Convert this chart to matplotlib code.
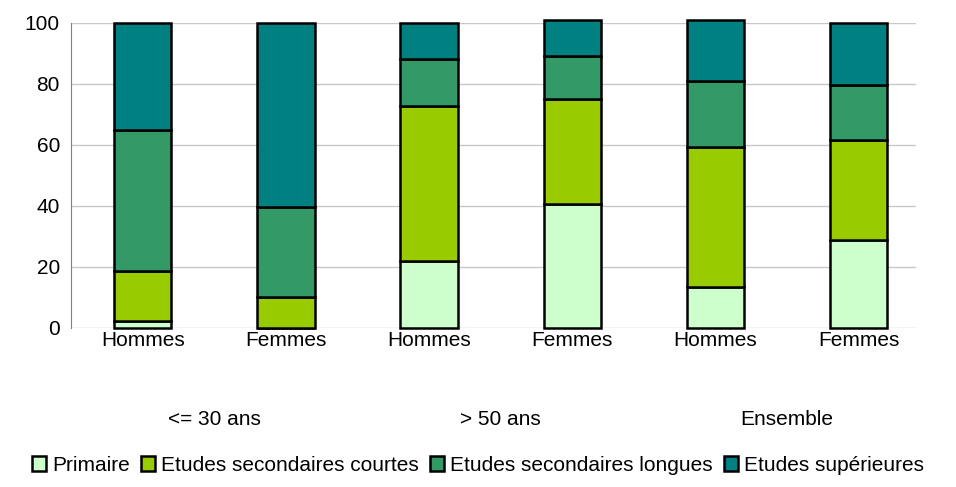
import matplotlib.pyplot as plt
import numpy as np

plt.rcParams['font.family'] = ['Liberation Sans', 'DejaVu Sans']

sexes = ['Hommes', 'Femmes', 'Hommes', 'Femmes', 'Hommes', 'Femmes']
groups = ['<= 30 ans', '> 50 ans', 'Ensemble']
series = ['Primaire', 'Etudes secondaires courtes', 'Etudes secondaires longues', 'Etudes supérieures']
primaire = [2.2, 0.0, 21.9, 40.6, 13.4, 29.0]
courtes = [16.6, 10.1, 50.7, 34.3, 46.0, 32.7]
longues = [46.1, 29.7, 15.7, 14.2, 21.7, 17.9]
superieures = [35.1, 60.2, 11.7, 11.8, 19.8, 20.4]
colors = ['#CCFFCC', '#99CC00', '#339966', '#008080']

fig = plt.figure(figsize=(9.56, 4.87), dpi=100)
ax = fig.add_axes([0.0743, 0.3265, 0.884, 0.6265])

x = np.arange(len(sexes))
bottom = np.zeros(len(sexes))
for name, vals, col in zip(series, [primaire, courtes, longues, superieures], colors):
    ax.bar(x, vals, 0.4, bottom=bottom, color=col, edgecolor='black', linewidth=1.8,
           label=name, zorder=3, clip_on=False)
    bottom += np.array(vals)

ax.set_xlim(-0.5, 5.4)
ax.set_ylim(0, 100)
ax.set_yticks(range(0, 101, 20))
ax.yaxis.grid(True, color='#c8c8c8', linewidth=1, zorder=0)
ax.set_axisbelow(True)
for s in ['top', 'right', 'bottom']:
    ax.spines[s].set_visible(False)
ax.spines['left'].set_color('#808080')
ax.tick_params(axis='y', length=0, labelsize=15, pad=8)
ax.tick_params(axis='x', length=0, labelsize=15, pad=2)
ax.set_xticks(x)
ax.set_xticklabels(sexes)

for i, g in enumerate(groups):
    ax.text(2 * i + 0.5, -0.30, g, transform=ax.get_xaxis_transform(),
            ha='center', va='center', fontsize=15)

fig.legend(loc='center', bbox_to_anchor=(0.5, 0.045), ncol=4, frameon=False,
           fontsize=15, handlelength=0.7, handleheight=0.7, handletextpad=0.3,
           columnspacing=0.5)

fig.savefig('out.png', dpi=100)
